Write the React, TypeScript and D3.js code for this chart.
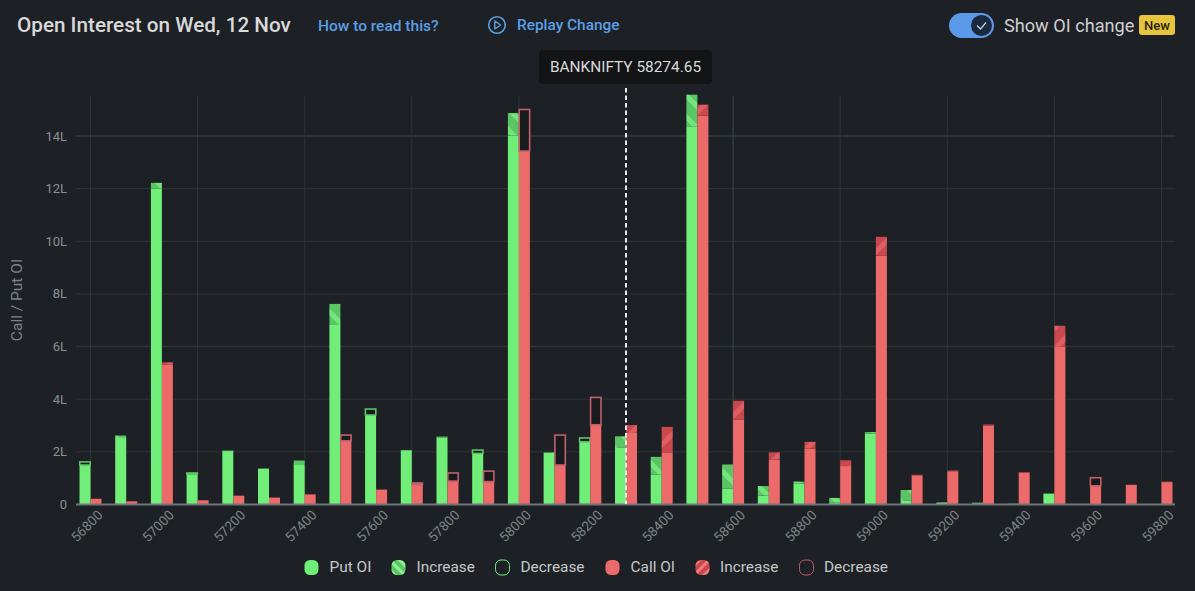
import React from "react";
import * as d3 from "d3";

const strikes = d3.range(0, 31).map((i) => String(56800 + i * 100));
const putOI = [1.5, 2.62, 12.22, 1.15, 2.05, 1.37, 1.67, 7.62, 3.4, 2.07, 2.58, 1.94, 14.87, 1.98, 2.38, 2.59, 1.81, 15.57, 1.52, 0.7, 0.87, 0.25, 2.75, 0.55, 0.08, 0.07, 0.03, 0.42, 0.02, 0, 0];
const putPrev = [1.64, 2.56, 12.0, 1.22, 2.03, 1.36, 1.5, 6.82, 3.65, 2.06, 2.55, 2.09, 14.02, 1.97, 2.55, 2.15, 1.13, 14.37, 0.6, 0.34, 0.8, 0.08, 2.7, 0.14, 0.06, 0.05, 0.02, 0.41, 0.01, 0, 0];
const callOI = [0.22, 0.13, 5.4, 0.17, 0.34, 0.27, 0.39, 2.42, 0.57, 0.76, 0.89, 0.87, 13.43, 1.5, 3.03, 3.02, 2.95, 15.19, 3.94, 1.98, 2.38, 1.68, 10.17, 1.13, 1.29, 3.04, 1.23, 6.79, 0.71, 0.75, 0.87];
const callPrev = [0.21, 0.12, 5.32, 0.16, 0.33, 0.26, 0.38, 2.66, 0.56, 0.84, 1.22, 1.29, 15.03, 2.66, 4.09, 2.72, 1.96, 14.77, 3.23, 1.71, 2.12, 1.46, 9.45, 1.11, 1.26, 3.0, 1.21, 5.99, 1.04, 0.74, 0.85];
const yTicks = [0, 2, 4, 6, 8, 10, 12, 14];
const labelledStrikes = strikes.filter((_, i) => i % 2 === 0);
const gridStrikes = strikes.filter((_, i) => i % 3 === 0);
const spotStrike = "58300";

const BG = "#1d2125";
const GREEN = "#70ee78";
const RED = "#ec6a6a";
const FONT = "Roboto, sans-serif";
const GRID = "#2e3537";

const x = d3.scaleBand<string>().domain(strikes).range([72.65, 1179.35]);
const y = d3.scaleLinear().domain([0, 14]).range([504.5, 136]);
const BAR = 11;
const cx = (s: string) => (x(s) as number) + x.bandwidth() / 2;

function Segment({ bx, cur, prev, color, hatch, edge }: { bx: number; cur: number; prev: number; color: string; hatch: string; edge: string }) {
  const base = Math.min(cur, prev);
  return (
    <g>
      <rect x={bx} y={y(base)} width={BAR} height={y(0) - y(base)} fill={color} />
      {cur > prev && <rect x={bx} y={y(cur)} width={BAR} height={y(prev) - y(cur)} fill={`url(#${hatch})`} />}
      {cur < prev && (
        <rect x={bx + 0.3} y={y(prev) + 0.6} width={BAR - 0.6} height={Math.max(y(cur) - y(prev) - 0.6, 0)} fill="#181b1e" stroke={edge} strokeWidth={1.6} />
      )}
    </g>
  );
}

function Swatch({ sx, fill, stroke }: { sx: number; fill: string; stroke?: string }) {
  return <rect x={sx + 0.5} y={560} width={14} height={15} rx={5.5} fill={fill} stroke={stroke} />;
}

const legendLabels = [
  { label: "Put OI", sw: 304, tx: 329.5, fill: GREEN },
  { label: "Increase", sw: 391, tx: 416.5, fill: "url(#hatchGreenL)" },
  { label: "Decrease", sw: 495, tx: 520.5, fill: "none", stroke: GREEN },
  { label: "Call OI", sw: 605, tx: 630.5, fill: RED },
  { label: "Increase", sw: 695, tx: 720, fill: "url(#hatchRedL)" },
  { label: "Decrease", sw: 799, tx: 824, fill: "none", stroke: "#c05a66" },
];

export default function App() {
  return (
    <svg width={1195} height={591} style={{ position: "absolute", left: 0, top: 0, display: "block" }} fontFamily={FONT}>
      <defs>
        <pattern id="hatchGreen" width={15} height={15} patternUnits="userSpaceOnUse" patternTransform="rotate(45)">
          <rect width={15} height={15} fill="#5bc465" />
          <rect width={15} height={5} fill="#72e67b" />
        </pattern>
        <pattern id="hatchRed" width={15} height={15} patternUnits="userSpaceOnUse" patternTransform="rotate(-45)">
          <rect width={15} height={15} fill="#c9474d" />
          <rect width={15} height={5} fill="#de5f63" />
        </pattern>
        <pattern id="hatchGreenL" width={7} height={7} patternUnits="userSpaceOnUse" patternTransform="rotate(45)">
          <rect width={7} height={7} fill="#5bc465" />
          <rect width={7} height={3} fill="#8cf094" />
        </pattern>
        <pattern id="hatchRedL" width={7} height={7} patternUnits="userSpaceOnUse" patternTransform="rotate(-45)">
          <rect width={7} height={7} fill="#c9474d" />
          <rect width={7} height={3} fill="#ec7a7a" />
        </pattern>
      </defs>
      <rect width={1195} height={591} fill={BG} />

      <text x={17} y={32} fontSize={20.7} fontWeight={500} fill="#d9d9d9">Open Interest on Wed, 12 Nov</text>
      <text x={318} y={31} fontSize={15.5} fontWeight={500} fill="#5c9ee6">How to read this?</text>
      <circle cx={497} cy={25} r={8.3} fill="none" stroke="#5c9ee6" strokeWidth={1.6} />
      <path d="M494.8 21 L494.8 29 L500.6 25 Z" fill="none" stroke="#5c9ee6" strokeWidth={1.4} strokeLinejoin="round" />
      <text x={517} y={30} fontSize={15.4} fontWeight={500} fill="#5c9ee6">Replay Change</text>

      <rect x={949} y={13} width={45} height={25} rx={12.5} fill="#5c9ae8" />
      <circle cx={981.5} cy={25.5} r={10.5} fill="#1b2a3f" />
      <path d="M977 25.5 L980.5 29 L986 22.5" fill="none" stroke="#c4d3e6" strokeWidth={1.2} />
      <text x={1004} y={32} fontSize={18.15} fill="#cfcfcf">Show OI change</text>
      <rect x={1139} y={15} width={36} height={20} rx={3} fill="#e6c43c" />
      <text x={1157} y={29.5} fontSize={13} fontWeight={500} textAnchor="middle" fill="#2a2410">New</text>

      {yTicks.map((t) => (
        <g key={t}>
          {t !== 0 && <line x1={76} x2={1175} y1={y(t)} y2={y(t)} stroke={t === 14 ? "#323b3a" : GRID} strokeWidth={t === 14 || t === 6 ? 1.5 : 1} />}
          <text x={67} y={y(t) + 4.5} fontSize={13} textAnchor="end" fill="#8b9094">{t === 0 ? "0" : `${t}L`}</text>
        </g>
      ))}
      {gridStrikes.filter((s) => s !== spotStrike).map((s) => (
        <line key={s} x1={cx(s)} x2={cx(s)} y1={96} y2={504} stroke={s === "58600" ? "#323b3e" : GRID} strokeWidth={s === "58600" ? 1.5 : 1} />
      ))}

      {strikes.map((s, i) => (
        <g key={s}>
          <Segment bx={cx(s) - BAR} cur={putOI[i]} prev={putPrev[i]} color={GREEN} hatch="hatchGreen" edge="#5fc468" />
          <Segment bx={cx(s)} cur={callOI[i]} prev={callPrev[i]} color={RED} hatch="hatchRed" edge="#c0606a" />
        </g>
      ))}

      <line x1={76} x2={1175} y1={504.5} y2={504.5} stroke="#6f7478" strokeWidth={2} />
      {labelledStrikes.map((s) => (
        <text key={s} transform={`translate(${cx(s) + 13},${516}) rotate(-45)`} fontSize={13.5} textAnchor="end" fill="#7c8186">{s}</text>
      ))}

      <text transform="translate(22,300) rotate(-90)" fontSize={15.5} textAnchor="middle" fill="#7d8286">Call / Put OI</text>

      <line x1={cx(spotStrike)} x2={cx(spotStrike)} y1={88} y2={504} stroke="#e8e8e8" strokeWidth={2} strokeDasharray="4.5 3" />
      <rect x={539} y={50} width={173} height={34} rx={4} fill="#121416" />
      <text x={625.5} y={72} fontSize={15.4} textAnchor="middle" fill="#d9d9d9">BANKNIFTY 58274.65</text>

      {legendLabels.map((d) => (
        <g key={d.tx}>
          <Swatch sx={d.sw} fill={d.fill} stroke={d.stroke} />
          <text x={d.tx} y={572} fontSize={15.4} fill="#c6c8ca">{d.label}</text>
        </g>
      ))}
    </svg>
  );
}
